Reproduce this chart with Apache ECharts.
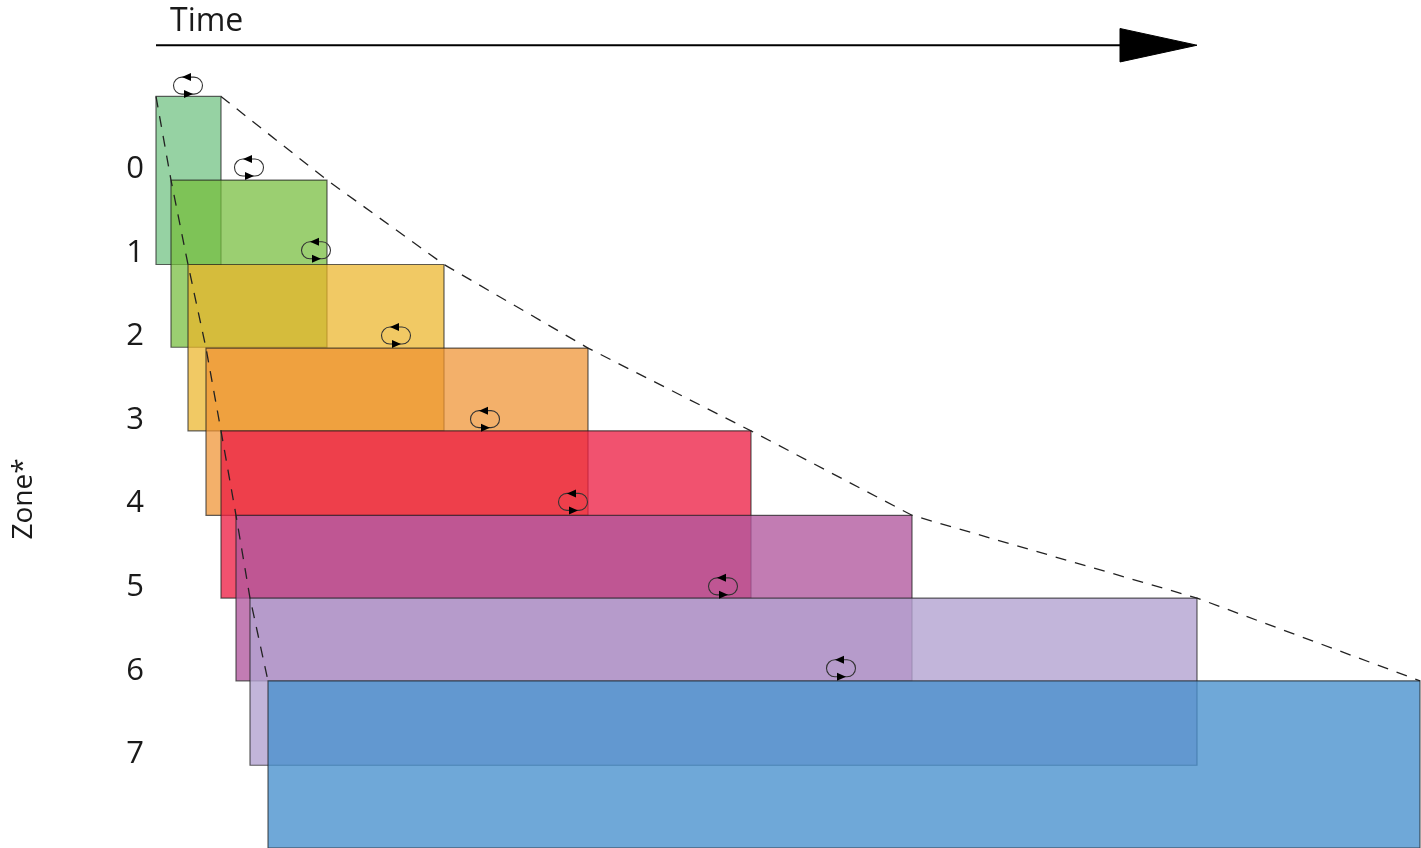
<!DOCTYPE html>
<html><head><meta charset="utf-8">
<style>html,body{margin:0;padding:0;background:#fff}#c{width:1421px;height:848px}</style>
<script src="https://cdn.jsdelivr.net/npm/echarts@6/dist/echarts.min.js"></script>
</head><body><div id="c"></div>
<script>
const zones = [0,1,2,3,4,5,6,7];
const timeStart = [0,15,32,50,65,80,94,112];
const timeEnd = [65,171,288,432,595,756,1041,1264];
const zoneTop = [-0.87,0.13,1.14,2.14,3.13,4.14,5.13,6.12];
const zoneBottom = [1.14,2.13,3.13,4.14,5.13,6.12,7.13,8.12];
const colors = ['rgba(109,192,128,.72)','rgba(117,188,58,.72)','rgba(235,180,40,.72)','rgba(238,145,49,.72)',
  'rgba(237,28,66,.76)','rgba(177,87,158,.78)','rgba(179,162,209,.8)','rgba(70,144,205,.78)'];
const loopTime = [32,93,160,240,329,417,567,685];
const loopZone = [-1.0,-0.02,0.97,1.99,2.99,3.98,4.99,5.97];
const arrowTime = [0,964];
const arrowZone = -1.483;
const arrowHeadTime = [964,1041];
const arrowHeadHalf = 0.2;

const chart = echarts.init(document.getElementById('c'), null, {renderer:'canvas'});
const ink = '#222';
chart.setOption({
  animation:false,
  backgroundColor:'#fff',
  title:{text:'Time',left:170,top:2,padding:0,
    textStyle:{fontFamily:'Open Sans',fontSize:32,fontWeight:'normal',color:'#1a1a1a',lineHeight:40}},
  graphic:[{type:'text',x:24,y:499,rotation:Math.PI/2,z:10,
    style:{text:'Zone*',fontFamily:'Open Sans',fontSize:28,fill:'#1a1a1a',align:'center',verticalAlign:'middle'}}],
  grid:{left:156,right:1,top:2,bottom:0,outerBoundsMode:'none'},
  xAxis:{type:'value',min:0,max:1264,show:false},
  yAxis:{type:'value',inverse:true,min:-2,max:8.12,interval:1,
    axisLine:{show:false},axisTick:{show:false},splitLine:{show:false},
    axisLabel:{margin:12,fontFamily:'Open Sans',fontSize:31,color:'#1a1a1a',padding:[4,0,0,0],
      formatter:v=>zones.includes(v)?String(v):''}},
  series:[
    {type:'custom',name:'zones',coordinateSystem:'cartesian2d',z:2,clip:false,
      data:zones.map(i=>[timeStart[i],timeEnd[i],zoneTop[i],zoneBottom[i],i]),
      encode:{x:[0,1],y:[2,3]},
      renderItem:(p,api)=>{
        const a=api.coord([api.value(0),api.value(2)]),b=api.coord([api.value(1),api.value(3)]);
        return {type:'rect',shape:{x:a[0],y:a[1],width:b[0]-a[0],height:b[1]-a[1]},
          style:{fill:colors[api.value(4)],stroke:'rgba(30,30,30,.7)',lineWidth:1.2}};
      }},
    {type:'line',name:'end',z:3,clip:false,symbol:'none',silent:true,
      data:zones.map(i=>[timeEnd[i],zoneTop[i]]),
      lineStyle:{color:ink,width:1.3,type:[11,9]}},
    {type:'line',name:'start',z:3,clip:false,symbol:'none',silent:true,
      data:zones.map(i=>[timeStart[i],zoneTop[i]]),
      lineStyle:{color:ink,width:1.3,type:[11,9]}},
    {type:'custom',name:'loops',coordinateSystem:'cartesian2d',z:4,clip:false,
      data:zones.map(i=>[loopTime[i],loopZone[i]]),
      renderItem:(p,api)=>{
        const c=api.coord([api.value(0),api.value(1)]),x=c[0],y=c[1];
        return {type:'group',children:[
          {type:'rect',shape:{x:x-14.5,y:y-8.5,width:29,height:17,r:8.5},
            style:{fill:'none',stroke:'#333',lineWidth:1.1}},
          {type:'polygon',shape:{points:[[x-6,y-8.5],[x+3,y-12.5],[x+3,y-4.5]]},style:{fill:'#000'}},
          {type:'polygon',shape:{points:[[x+5,y+8.5],[x-4,y+4.5],[x-4,y+12.5]]},style:{fill:'#000'}}
        ]};
      }},
    {type:'line',name:'timeArrow',z:5,clip:false,symbol:'none',silent:true,
      data:arrowTime.map(t=>[t,arrowZone]),
      lineStyle:{color:'#000',width:2}},
    {type:'custom',name:'timeHead',coordinateSystem:'cartesian2d',z:5,clip:false,
      data:[[arrowHeadTime[0],arrowZone,arrowHeadTime[1]]],
      renderItem:(p,api)=>{
        const a=api.coord([api.value(0),api.value(1)-arrowHeadHalf]),
              b=api.coord([api.value(0),api.value(1)+arrowHeadHalf]),
              t=api.coord([api.value(2),api.value(1)]);
        return {type:'polygon',shape:{points:[a,t,b]},
          style:{fill:'#000',stroke:'#000',lineWidth:1,lineJoin:'round'}};
      }}
  ]
});
</script></body></html>
